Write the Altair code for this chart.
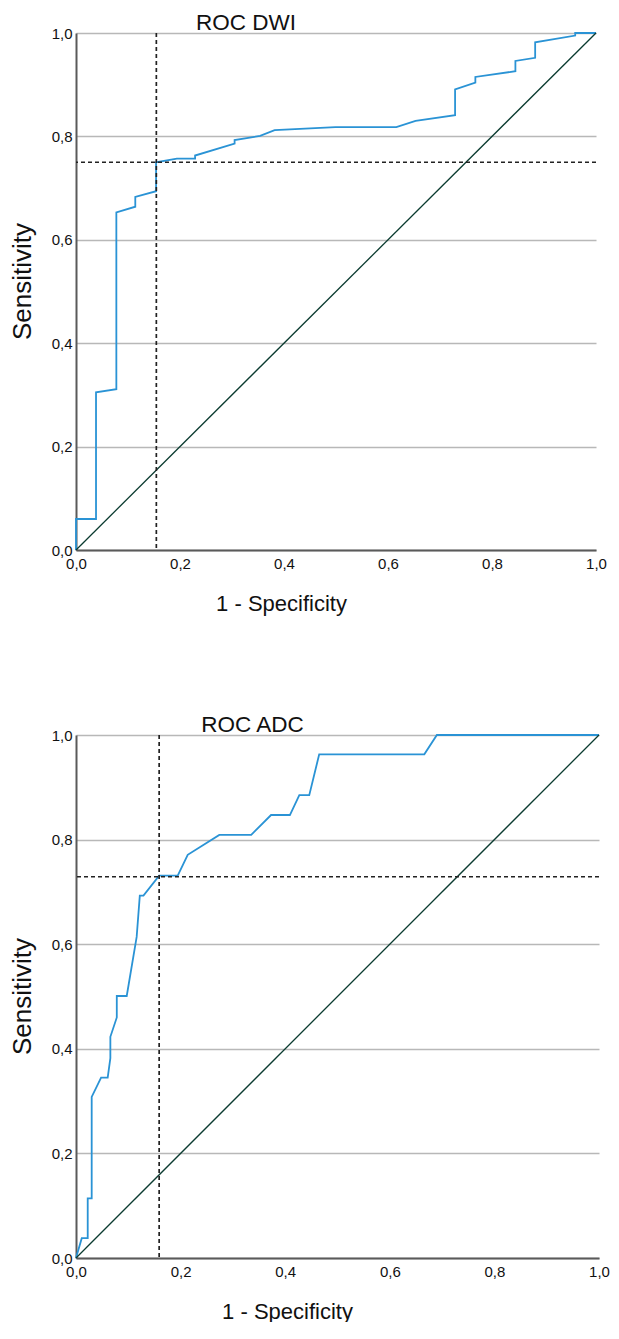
import altair as alt
import pandas as pd

# ---- data ----
dwi_fpr = [0.0, 0.0, 0.0385, 0.0385, 0.0776, 0.0776, 0.114, 0.114, 0.154, 0.154,
           0.194, 0.229, 0.229, 0.305, 0.305, 0.354, 0.382, 0.499, 0.616, 0.653,
           0.729, 0.729, 0.768, 0.768, 0.845, 0.845, 0.883, 0.883, 0.960, 0.960, 1.0]
dwi_tpr = [0.0, 0.06, 0.06, 0.305, 0.311, 0.653, 0.664, 0.683, 0.694, 0.750,
           0.757, 0.757, 0.763, 0.786, 0.793, 0.801, 0.812, 0.818, 0.818, 0.830,
           0.841, 0.891, 0.904, 0.915, 0.926, 0.946, 0.952, 0.982, 0.995, 1.0, 1.0]

adc_fpr = [0.0, 0.011, 0.0224, 0.0224, 0.030, 0.030, 0.048, 0.0606, 0.0657, 0.0657,
           0.078, 0.078, 0.097, 0.116, 0.122, 0.129, 0.159, 0.1945, 0.2136, 0.274,
           0.335, 0.373, 0.409, 0.427, 0.446, 0.465, 0.666, 0.690, 1.0]
adc_tpr = [0.0, 0.038, 0.038, 0.114, 0.114, 0.308, 0.345, 0.345, 0.382, 0.423,
           0.460, 0.501, 0.501, 0.614, 0.693, 0.693, 0.731, 0.731, 0.771, 0.809,
           0.809, 0.847, 0.847, 0.885, 0.885, 0.963, 0.963, 1.0, 1.0]

ref_line = [0.0, 1.0]

dwi_cut = [0.1545, 0.750]
adc_cut = [0.159, 0.729]

tick_values = [0.0, 0.2, 0.4, 0.6, 0.8, 1.0]
titles = ["ROC DWI", "ROC ADC"]
x_title = "1 - Specificity"
y_title = "Sensitivity"

FONT = "Liberation Sans"
LABEL_EXPR = "replace(format(datum.value, '.1f'), '.', ',')"


def roc_panel(fpr, tpr, cut, title, w, h, title_dx, xtitle_x, ytitle_y, ytitle_pad):
    curve = pd.DataFrame({"fpr": fpr, "tpr": tpr, "k": list(range(len(fpr)))})
    diag = pd.DataFrame({"fpr": ref_line, "tpr": ref_line, "k": [0, 1]})
    vcut = pd.DataFrame({"fpr": [cut[0]]})
    hcut = pd.DataFrame({"tpr": [cut[1]]})

    xs = alt.Scale(domain=[0, 1], nice=False, zero=False)
    ys = alt.Scale(domain=[0, 1], nice=False, zero=False)

    x_axis = alt.Axis(values=tick_values, labelExpr=LABEL_EXPR, grid=False, ticks=False,
                      domainColor="#5a5a5a", domainWidth=2, labelFont=FONT,
                      labelFontSize=15, labelColor="#111111", labelPadding=6,
                      labelFlush=False, title=x_title, titleFont=FONT, titleFontSize=22,
                      titleFontWeight="normal", titleColor="#111111", titlePadding=22,
                      titleX=xtitle_x)
    y_axis = alt.Axis(values=tick_values, labelExpr=LABEL_EXPR, grid=True,
                      gridColor="#b8b8b8", gridWidth=1.6, ticks=False,
                      domainColor="#5a5a5a", domainWidth=2, labelFont=FONT,
                      labelFontSize=15, labelColor="#111111", labelPadding=4,
                      labelFlush=False, title=y_title, titleFont=FONT, titleFontSize=26,
                      titleFontWeight="normal", titleColor="#111111",
                      titlePadding=ytitle_pad, titleY=ytitle_y)

    curve_layer = alt.Chart(curve).mark_line(color="#2a93d5", strokeWidth=1.8).encode(
        x=alt.X("fpr:Q", scale=xs, axis=x_axis),
        y=alt.Y("tpr:Q", scale=ys, axis=y_axis),
        order="k:Q",
    )
    diag_layer = alt.Chart(diag).mark_line(color="#0b3b30", strokeWidth=1.3).encode(
        x=alt.X("fpr:Q", scale=xs),
        y=alt.Y("tpr:Q", scale=ys),
        order="k:Q",
    )
    v_layer = alt.Chart(vcut).mark_rule(color="#222222", strokeWidth=1.7,
                                        strokeDash=[4, 3]).encode(
        x=alt.X("fpr:Q", scale=xs)
    )
    h_layer = alt.Chart(hcut).mark_rule(color="#222222", strokeWidth=1.7,
                                        strokeDash=[4, 3]).encode(
        y=alt.Y("tpr:Q", scale=ys)
    )
    return alt.layer(curve_layer, diag_layer, v_layer, h_layer).properties(
        width=w, height=h,
        title=alt.TitleParams(text=title, font=FONT, fontSize=22.5, fontWeight="normal",
                              color="#111111", anchor="middle", dx=title_dx, offset=-8),
    )


top = roc_panel(dwi_fpr, dwi_tpr, dwi_cut, titles[0], 520, 517, -90, 205, 248, 16)
bottom = roc_panel(adc_fpr, adc_tpr, adc_cut, titles[1], 523, 523, -85, 211, 261, 16)

chart = alt.vconcat(top, bottom, spacing=99).properties(
    padding={"left": 1, "top": 3, "right": 0, "bottom": 0}
).configure_view(stroke=None)

chart.save("out.html", embed_options={"renderer": "svg", "actions": False})
